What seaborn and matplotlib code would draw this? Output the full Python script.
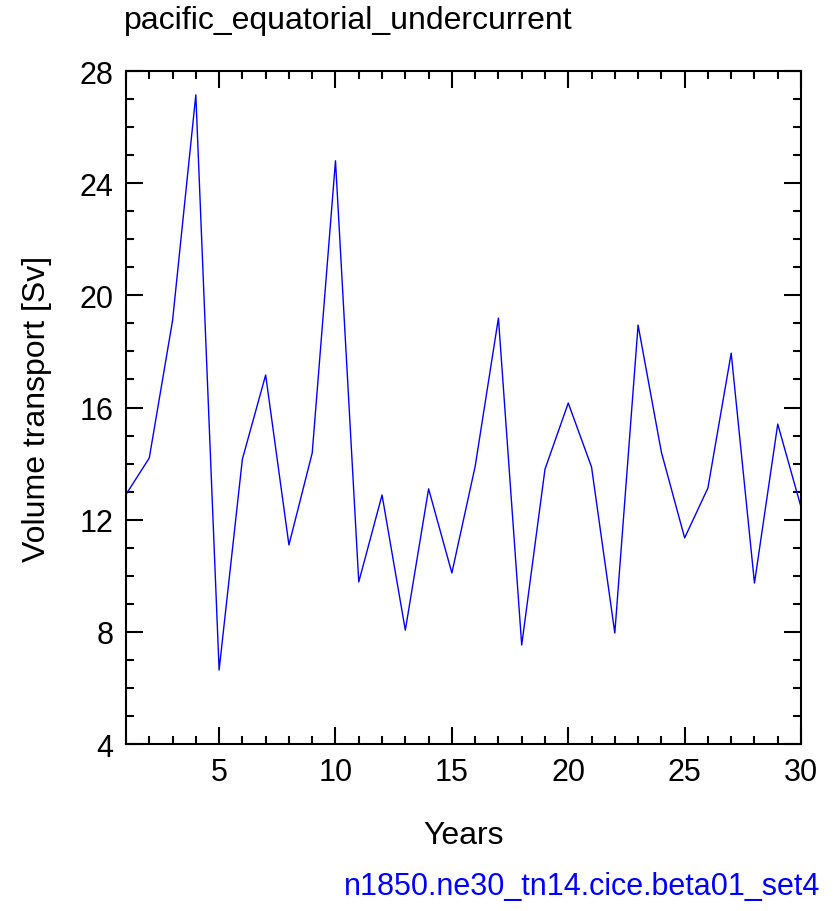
import matplotlib
matplotlib.use("Agg")
import matplotlib.pyplot as plt
import seaborn as sns
import pandas as pd
from matplotlib.ticker import MultipleLocator

years = list(range(1, 31))
transport = [12.9, 14.2, 19.1, 27.15, 6.64, 14.16, 17.16, 11.1, 14.38, 24.8,
             9.78, 12.88, 8.06, 13.1, 10.1, 13.9, 19.19, 7.53, 13.8, 16.16,
             13.88, 7.96, 18.94, 14.41, 11.35, 13.13, 17.94, 9.74, 15.41, 12.45]
title = "pacific_equatorial_undercurrent"
case_label = "n1850.ne30_tn14.cice.beta01_set4"

sns.set_style("ticks")
plt.rcParams['font.family'] = ['Liberation Sans', 'DejaVu Sans']
plt.rcParams['text.color'] = 'black'
plt.rcParams['axes.labelcolor'] = 'black'
plt.rcParams['xtick.color'] = 'black'
plt.rcParams['ytick.color'] = 'black'

df = pd.DataFrame({"Years": years, "Transport": transport})
fig = plt.figure(figsize=(8.4, 9.12), dpi=100)
ax = fig.add_axes([0.15, 0.1831, 0.8036, 0.7379])
sns.lineplot(data=df, x="Years", y="Transport", ax=ax, color="blue", linewidth=1)
ax.set_xlim(1, 30)
ax.set_ylim(4, 28)
ax.xaxis.set_major_locator(MultipleLocator(5))
ax.xaxis.set_minor_locator(MultipleLocator(1))
ax.yaxis.set_major_locator(MultipleLocator(4))
ax.yaxis.set_minor_locator(MultipleLocator(1))
ax.tick_params(which='both', direction='in', top=True, right=True, labelsize=22, width=1.5, pad=9)
ax.tick_params(which='major', length=12)
ax.tick_params(which='minor', length=6)
for s in ax.spines.values():
    s.set_linewidth(1.5)
    s.set_color('black')
ax.set_xlabel("Years", fontsize=23, labelpad=24)
ax.set_ylabel("Volume transport [Sv]", fontsize=23, labelpad=20)
fig.text(0.148, 0.977, title, fontsize=23, ha='left', va='center')
fig.text(0.977, 0.027, case_label, fontsize=22, ha='right', va='center', color='blue')
fig.savefig("out.png", dpi=100)
